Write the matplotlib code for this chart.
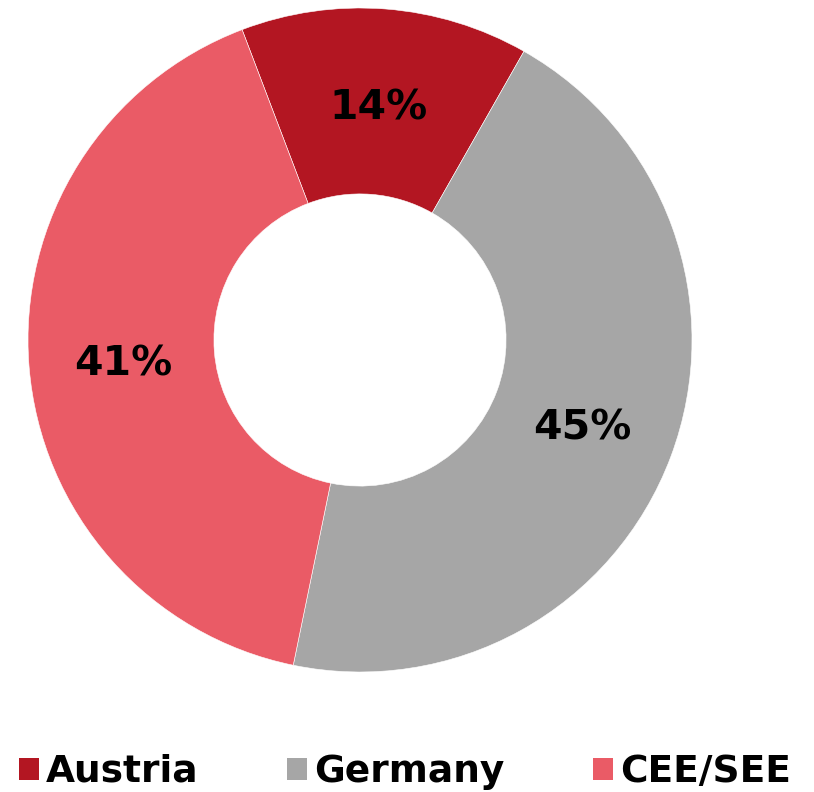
import numpy as np
import matplotlib
matplotlib.use("Agg")
import matplotlib.pyplot as plt
from matplotlib.patches import Patch

regions = ["Austria", "Germany", "CEE/SEE"]
shares = [14, 45, 41]
colors = ["#B31622", "#A6A6A6", "#EA5B66"]

fig = plt.figure(figsize=(8.14, 7.92), dpi=100)
# donut centred at (360, 340) px, outer radius ~332 px
ax = fig.add_axes([28 / 814, (792 - 672) / 792, 664 / 814, 664 / 792])

wedges, texts = ax.pie(shares, colors=colors, startangle=110.8, counterclock=False,
                       radius=1.0, wedgeprops=dict(width=0.56, edgecolor="white", linewidth=0.4),
                       labels=["%d%%" % v for v in shares], labeldistance=0.715,
                       textprops=dict(fontsize=29.5, fontweight="bold", color="black",
                                      family="DejaVu Sans", ha="center", va="center"))
# labels sit a touch lower in the original
for t in texts:
    x, y = t.get_position()
    t.set_position((x, y - 0.015))
ax.set_xlim(-1, 1)
ax.set_ylim(-1, 1)
ax.set_aspect("equal")
ax.axis("off")

handles = [Patch(facecolor=c, edgecolor="none") for c in colors]
fig.legend(handles, regions, loc="center", bbox_to_anchor=(405 / 814, 20 / 792), ncol=3,
           frameon=False, handlelength=0.53, handleheight=0.53, handletextpad=0.2,
           columnspacing=2.35, borderaxespad=0,
           prop=dict(size=27, weight="bold", family="DejaVu Sans"))

fig.savefig("out.png", dpi=100, facecolor="white")
